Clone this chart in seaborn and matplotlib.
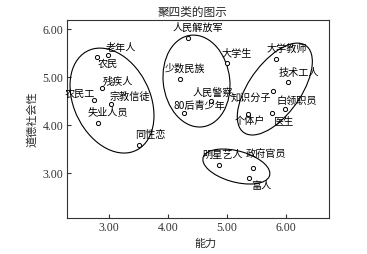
import numpy as np
import pandas as pd
import seaborn as sns
from matplotlib import pyplot as plt
from matplotlib.patches import Ellipse

# 数据：各社会群体的能力与道德社会性
groups = ["老年人", "农民", "残疾人", "农民工", "宗教信徒", "失业人员", "同性恋",
          "人民解放军", "少数民族", "80后青少年", "人民警察",
          "大学生", "大学教师", "技术工人", "知识分子", "白领职员", "个体户", "医生",
          "明星艺人", "政府官员", "富人"]
ability = [2.98, 2.79, 2.87, 2.74, 3.03, 2.80, 3.51,
           4.34, 4.20, 4.27, 4.73,
           5.00, 5.83, 6.04, 5.78, 5.99, 5.36, 5.77,
           4.87, 5.44, 5.38]
morality = [5.46, 5.42, 4.78, 4.52, 4.43, 4.05, 3.58,
            5.81, 4.96, 4.25, 4.50,
            5.29, 5.375, 4.90, 4.71, 4.33, 4.23, 4.25,
            3.17, 3.10, 2.90]

# 标签偏移（像素），相对于点
label_offsets = [(13, 7), (11, -7), (16, 6), (-14, 6), (19, 7), (10, 10), (11, 10),
                 (9.5, 10), (5, 10), (15, 7), (2, 8),
                 (10, 9), (11.5, 10), (10.5, 9), (-21.5, -7), (11.5, 8), (2, -7), (11, -8),
                 (3.5, 10), (13, 13), (12, -8)]

# 四个聚类的椭圆：中心x, 中心y, x半宽, y半高, 相关
clusters = [(3.046, 4.51, 0.714, 1.094, -0.286),
            (4.483, 4.917, 0.570, 0.958, -0.09),
            (5.815, 4.75, 0.638, 0.958, 0.60),
            (5.161, 3.135, 0.570, 0.365, -0.40)]

sns.set_theme(style="white")
plt.rcParams['font.family'] = ['Liberation Serif', 'Noto Sans CJK SC', 'DejaVu Sans']
plt.rcParams['axes.unicode_minus'] = False

df = pd.DataFrame({"能力": ability, "道德社会性": morality, "群体": groups})

fig = plt.figure(figsize=(3.67, 2.54), dpi=100)
ax = fig.add_axes([0.1834, 0.1406, 0.7122, 0.7807])

sns.scatterplot(data=df, x="能力", y="道德社会性", ax=ax, s=9, marker="o",
                facecolor="white", edgecolor="black", linewidth=0.7, zorder=3)

for name, x, y, (dx, dy) in zip(groups, ability, morality, label_offsets):
    ax.annotate(name, (x, y), xytext=(dx, dy), textcoords="offset pixels",
                ha="center", va="center", fontsize=7.3, color="black",
                family=['Noto Sans CJK SC', 'DejaVu Sans'])

for cx, cy, sx, sy, r in clusters:
    cov = np.array([[sx * sx, r * sx * sy], [r * sx * sy, sy * sy]])
    vals, vecs = np.linalg.eigh(cov)
    angle = np.degrees(np.arctan2(vecs[1, 1], vecs[0, 1]))
    ax.add_patch(Ellipse((cx, cy), 2 * np.sqrt(vals[1]), 2 * np.sqrt(vals[0]),
                         angle=angle, fill=False, edgecolor="black", linewidth=0.8))

ax.set_xlim(2.286, 6.731)
ax.set_ylim(2.056, 6.19)
ax.set_xticks([3, 4, 5, 6])
ax.set_yticks([3, 4, 5, 6])
ax.set_xticklabels(["3.00", "4.00", "5.00", "6.00"])
ax.set_yticklabels(["3.00", "4.00", "5.00", "6.00"])
ax.tick_params(direction="in", length=3, width=0.8, pad=3, labelsize=8.5,
               colors="#333333", bottom=True, left=True)
for sp in ax.spines.values():
    sp.set_color("#333333")
    sp.set_linewidth(0.8)

ax.set_xlabel("能力", fontsize=8, family=['Noto Sans CJK SC'])
ax.set_ylabel("道德社会性", fontsize=8, family=['Noto Sans CJK SC'])
ax.xaxis.set_label_coords(0.527, -0.104)
ax.yaxis.set_label_coords(-0.113, 0.5)

fig.text(193 / 367, 1 - 12 / 254, "聚四类的图示", ha="center", va="center",
         fontsize=8.4, family=['Noto Sans CJK SC'])

plt.savefig("out.png", dpi=100)
